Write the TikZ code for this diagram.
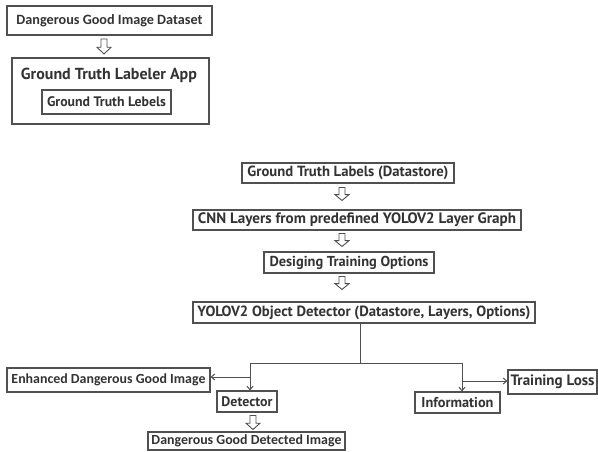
\documentclass[tikz,border=0pt]{standalone}
\usepackage{fontspec}
\setmainfont{PT Sans}
\newfontfamily\calib{Carlito}
\usetikzlibrary{arrows.meta}
\definecolor{txt}{HTML}{333333}
\definecolor{edge}{HTML}{505050}
\newcommand\fw[2]{\resizebox{#1pt}{!}{#2}}
\tikzset{
  box/.style={draw=edge,line width=1.1pt,rectangle,inner sep=0pt,text=txt,font=\bfseries},
  cbox/.style={box,font=\calib\bfseries},
  conn/.style={draw=edge,line width=1pt},
  tip/.style={-{Straight Barb[length=3.5pt,width=6pt]}},
  pics/harrow/.style={code={
    \draw[draw=edge,line width=0.9pt,line join=miter]
      (-3,-#1/2) -- (3,-#1/2) -- (3,0.05*#1) -- (7,0.05*#1) -- (0,#1/2) -- (-7,0.05*#1) -- (-3,0.05*#1) -- cycle;
  }}
}
\begin{document}
\begin{tikzpicture}[x=1pt,y=-1pt]
\useasboundingbox[fill=white] (0,0) rectangle (598,452);
% top group
\node[cbox,minimum width=205,minimum height=29] (ds) at (109.5,20.5) {\fw{186}{Dangerous Good Image Dataset}};
\pic (a1) at (104,46.5) {harrow=15};
\node[box,minimum width=197,minimum height=66] (app) at (110.5,91) {};
\node[text=txt,font=\bfseries,inner sep=0pt] (apptitle) at (109,75) {\fw{176}{Ground Truth Labeler App}};
\node[box,minimum width=129,minimum height=24] (gtl) at (106.5,102) {\fw{119}{Ground Truth Lebels}};
% main chain
\node[box,minimum width=212,minimum height=20] (gtd) at (348,173) {\fw{201}{Ground Truth Labels (Datastore)}};
\pic (a2) at (342,194) {harrow=13};
\node[box,minimum width=328,minimum height=20] (cnn) at (357,220) {\fw{318}{CNN Layers from predefined YOLOV2 Layer Graph}};
\pic (a3) at (342,240) {harrow=13};
\node[box,minimum width=170,minimum height=21] (dto) at (349,262.5) {\fw{159}{Desiging Training Options}};
\pic (a4) at (342,283) {harrow=13};
\node[box,minimum width=342,minimum height=21] (yolo) at (364,312.5) {\fw{333}{YOLOV2 Object Detector (Datastore, Layers, Options)}};
% outputs
\node[cbox,minimum width=203,minimum height=24] (enh) at (108.5,380) {\fw{194}{Enhanced Dangerous Good Image}};
\node[box,minimum width=60,minimum height=21] (det) at (247,401.5) {\fw{51}{Detector}};
\pic (a5) at (253,422.5) {harrow=14};
\node[cbox,minimum width=197,minimum height=18] (dgdi) at (246.5,441) {\fw{190}{Dangerous Good Detected Image}};
\node[box,minimum width=85,minimum height=21] (info) at (457.5,402.5) {\fw{72}{Information}};
\node[box,minimum width=89,minimum height=24] (tl) at (552.5,382) {\fw{84}{Training Loss}};
% connectors
\coordinate (j) at (360,363);
\coordinate (jl) at (250,363);
\coordinate (jr) at (462,363);
\coordinate (bl) at (250,377);
\coordinate (br) at (462,381);
\draw[conn] (yolo.south -| j) -- (j);
\draw[conn] (jl) -- (jr);
\draw[conn,tip] (jl) -- (jl |- det.north);
\draw[conn,tip] (jr) -- (jr |- info.north);
\draw[conn,tip] (bl) -- (bl -| enh.east);
\draw[conn,tip] (br) -- (br -| tl.west);
\end{tikzpicture}
\end{document}
